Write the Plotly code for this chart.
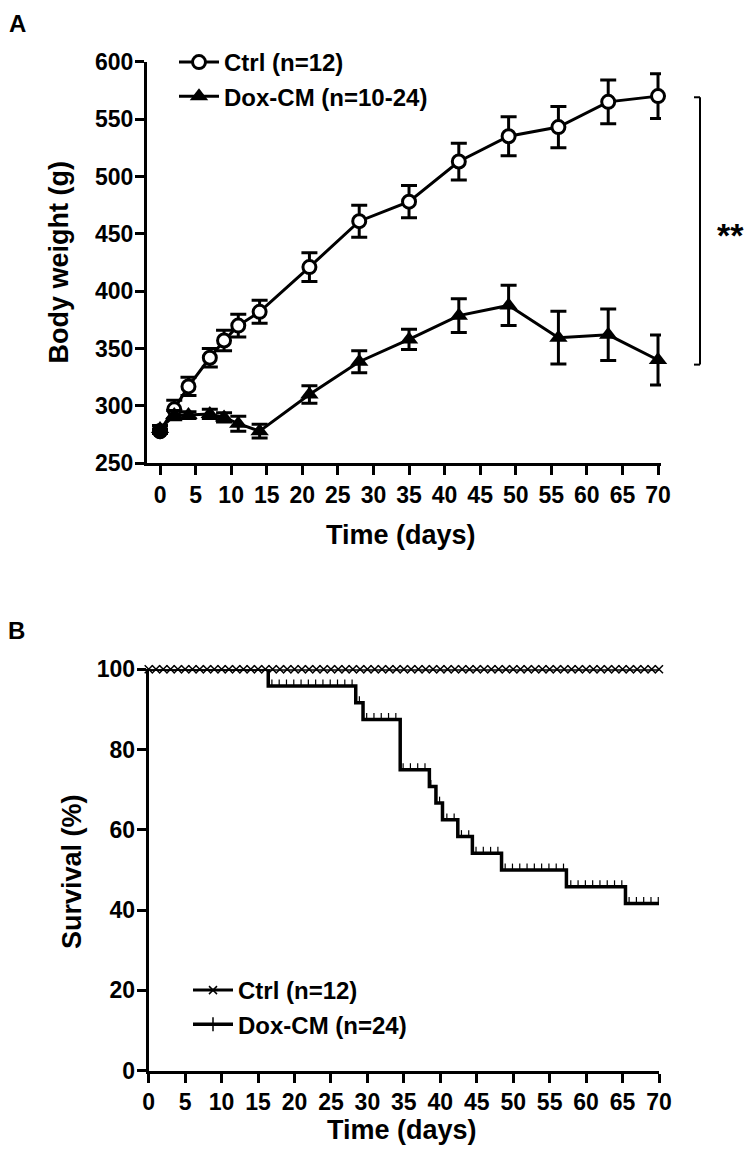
import numpy as np
import plotly.graph_objects as go

# ---------------- Panel A data: body weight ----------------
days_w = [0, 2, 4, 7, 9, 11, 14, 21, 28, 35, 42, 49, 56, 63, 70]
ctrl_w = [278, 297, 317, 342, 357, 370, 382, 421, 461, 478, 513, 535, 543, 565, 570]
ctrl_se = [2, 8, 8, 8, 9, 10, 10, 12.5, 14, 14, 16, 17, 18, 19, 19.5]
dox_w = [280, 292, 292, 293, 290, 284.5, 278, 310, 338.5, 358, 378.7, 387.6, 359.5, 362, 340]
dox_se = [3, 4, 3, 4, 4, 6.5, 6, 7.6, 9.5, 8.8, 14.6, 17.5, 23, 22.4, 21.8]
bracket_y = [569, 336]

# ---------------- Panel B data: survival ----------------
ctrl_t = [0, 1, 2, 3, 4, 5, 6, 7, 8, 9, 10, 11, 12, 13, 14, 15, 16, 17, 18, 19, 20,
          21, 22, 23, 24, 25, 26, 27, 28, 29, 30, 31, 32, 33, 34, 35, 36, 37, 38, 39, 40,
          41, 42, 43, 44, 45, 46, 47, 48, 49, 50, 51, 52, 53, 54, 55, 56, 57, 58, 59, 60,
          61, 62, 63, 64, 65, 66, 67, 68, 69, 70]
ctrl_s = [100] * len(ctrl_t)
dox_t = [0, 16.4, 28.4, 29.4, 34.5, 38.5, 39.4, 40.3, 42.4, 44.4, 48.4, 57.3, 65.4, 70]
dox_s = [100, 95.83, 91.67, 87.5, 75, 70.83, 66.67, 62.5, 58.33, 54.17, 50, 45.83, 41.67, 41.67]
dox_cens_t = [0.9, 1.9, 2.9, 3.9, 4.9, 5.9, 6.9, 7.9, 8.9, 9.9, 10.9, 11.9, 12.9, 13.9, 14.9,
              15.9, 16.9, 17.9, 18.9, 19.9, 20.9, 21.9, 22.9, 23.9, 24.9, 25.9, 26.9, 27.9,
              28.9, 29.9, 30.9, 31.9, 32.9, 33.9, 34.9, 35.9, 36.9, 37.9, 38.7, 39.9, 40.9,
              41.9, 42.9, 43.9, 44.9, 45.9, 46.9, 47.9, 48.9, 49.9, 50.9, 51.9, 52.9, 53.9,
              54.9, 55.9, 56.9, 57.9, 58.9, 59.9, 60.9, 61.9, 62.9, 63.9, 64.9, 65.9, 66.9,
              67.9, 68.9, 69.9]

# censor tick levels looked up from the step function
idx = np.searchsorted(np.array(dox_t), np.array(dox_cens_t), side="right") - 1
dox_cens_s = [dox_s[i] for i in idx]

FONT = "Liberation Sans, Arial, Helvetica, sans-serif"
BLACK = "#000000"
# the page body adds an 8px offset, so the figure is slightly smaller than the window
OFF = 8
W, H = 753 - OFF, 1154 - OFF


def PX(x):
    return (x - OFF) / W


def PY(y):
    return 1 - (y - OFF) / H


fig = go.Figure()

# ----- Panel A -----
fig.add_trace(go.Scatter(
    x=days_w, y=ctrl_w, mode="lines+markers", name="Ctrl (n=12)",
    line=dict(color=BLACK, width=3),
    marker=dict(symbol="circle", size=13, color="white", line=dict(color=BLACK, width=3)),
    error_y=dict(type="data", array=ctrl_se, color=BLACK, thickness=3, width=8),
    xaxis="x", yaxis="y", legend="legend", legendgroup="a1", cliponaxis=False,
))
fig.add_trace(go.Scatter(
    x=days_w, y=dox_w, mode="lines+markers", name="Dox-CM (n=10-24)",
    line=dict(color=BLACK, width=3),
    marker=dict(symbol="triangle-up", size=16, color=BLACK),
    error_y=dict(type="data", array=dox_se, color=BLACK, thickness=3, width=8),
    xaxis="x", yaxis="y", legend="legend", legendgroup="a2", cliponaxis=False,
))
# day-0 overlapping symbol drawn filled on top
fig.add_trace(go.Scatter(
    x=days_w[:1], y=ctrl_w[:1], mode="markers", showlegend=False,
    marker=dict(symbol="circle", size=14, color=BLACK, line=dict(color=BLACK, width=2)),
    xaxis="x", yaxis="y", cliponaxis=False,
))

# ----- Panel B -----
fig.add_trace(go.Scatter(
    x=ctrl_t, y=ctrl_s, mode="lines+markers", name="Ctrl (n=12)",
    line=dict(color=BLACK, width=3),
    marker=dict(symbol="x-thin", size=8, line=dict(color=BLACK, width=1.5)),
    xaxis="x2", yaxis="y2", legend="legend2", legendgroup="b1", cliponaxis=False,
))
fig.add_trace(go.Scatter(
    x=dox_t, y=dox_s, mode="lines", line_shape="hv", showlegend=False,
    line=dict(color=BLACK, width=3.5),
    xaxis="x2", yaxis="y2", cliponaxis=False,
))
fig.add_trace(go.Scatter(
    x=dox_cens_t, y=dox_cens_s, mode="markers", showlegend=False,
    marker=dict(size=0.1, color=BLACK, opacity=0),
    error_y=dict(type="data", symmetric=False, array=[1.6] * len(dox_cens_t),
                 arrayminus=[0] * len(dox_cens_t), color=BLACK, thickness=1.2, width=0),
    xaxis="x2", yaxis="y2", cliponaxis=False,
))
fig.add_trace(go.Scatter(
    x=[None], y=[None], mode="lines+markers", name="Dox-CM (n=24)",
    line=dict(color=BLACK, width=3.5),
    marker=dict(symbol="line-ns", size=10, line=dict(color=BLACK, width=1.5)),
    xaxis="x2", yaxis="y2", legend="legend2", legendgroup="b2",
))

axis_common = dict(
    showline=True, linecolor=BLACK, linewidth=3, showgrid=False, zeroline=False,
    ticks="outside", tickcolor=BLACK, tickwidth=3, ticklen=9,
    tickfont=dict(family=FONT, size=23, color=BLACK, weight="bold"),
    mirror=False, automargin=False,
)
title_font = dict(family=FONT, size=27, color=BLACK, weight="bold")
leg_font = dict(family=FONT, size=24, color=BLACK, weight="bold")

fig.update_layout(
    template="none",
    width=W, height=H,
    margin=dict(l=0, r=0, t=0, b=0, autoexpand=False),
    paper_bgcolor="white", plot_bgcolor="white",
    showlegend=True,
    xaxis=dict(domain=[PX(147), PX(661)], range=[-1.83, 70.42],
               tickvals=list(range(0, 75, 5)), anchor="y", **axis_common),
    yaxis=dict(domain=[PY(463.3), PY(61.7)], range=[250, 600],
               tickvals=list(range(250, 650, 50)), anchor="x", ticklabelstandoff=-3,
               **axis_common),
    xaxis2=dict(domain=[PX(148.7), PX(659)], range=[0, 70],
                tickvals=list(range(0, 75, 5)), anchor="y2", **axis_common),
    yaxis2=dict(domain=[PY(1070.7), PY(669.3)], range=[0, 100],
                tickvals=list(range(0, 120, 20)), anchor="x2", ticklabelstandoff=-3,
                **axis_common),
    legend=dict(x=PX(174), y=PY(40), xanchor="left", yanchor="top",
                bgcolor="rgba(0,0,0,0)", itemwidth=40, traceorder="grouped",
                tracegroupgap=0, font=leg_font),
    legend2=dict(x=PX(188), y=PY(968), xanchor="left", yanchor="top",
                 bgcolor="rgba(0,0,0,0)", itemwidth=40, traceorder="grouped",
                 tracegroupgap=0, font=leg_font),
)


def label(x, y, text, font, angle=0, yanchor="middle"):
    fig.add_annotation(x=PX(x), y=PY(y), xref="paper", yref="paper", text=text,
                       showarrow=False, textangle=angle, font=font,
                       xanchor="center", yanchor=yanchor)


# axis titles
label(401, 535, "Time (days)", title_font)
label(58, 262.5, "Body weight (g)", title_font, -90)
label(402, 1130, "Time (days)", title_font)
label(72, 872, "Survival (%)", title_font, -90)

# significance bracket (panel A)
def ya(v):
    return PY(463.3) + (v - 250) / 350 * (PY(61.7) - PY(463.3))


bx = PX(700)
bt = PX(694)
for (x0, x1, y0, y1) in [(bx, bx, bracket_y[0], bracket_y[1]),
                         (bt, bx, bracket_y[0], bracket_y[0]),
                         (bt, bx, bracket_y[1], bracket_y[1])]:
    fig.add_shape(type="line", xref="paper", yref="paper", x0=x0, x1=x1,
                  y0=ya(y0), y1=ya(y1), line=dict(color=BLACK, width=2))
label(730, 235, "**", dict(family=FONT, size=34, color=BLACK, weight="bold"))

# panel letters
letter_font = dict(family=FONT, size=24, color=BLACK, weight="bold")
label(17, OFF, "A", letter_font, yanchor="top")
label(16, 630, "B", letter_font)

fig.write_html("out.html")
